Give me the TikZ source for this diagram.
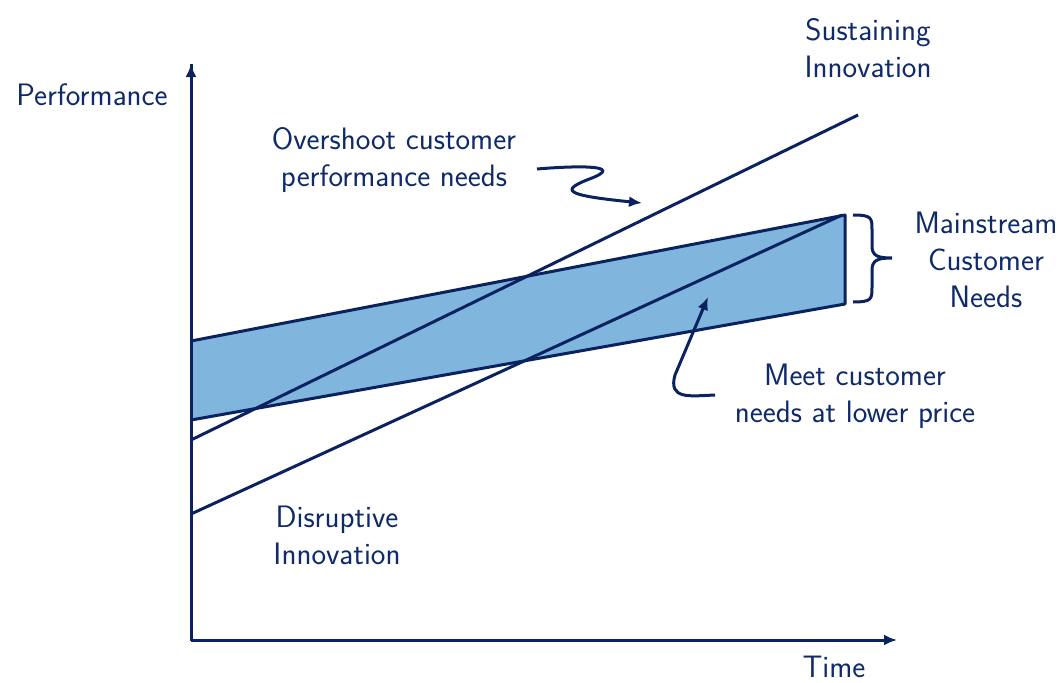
\documentclass[tikz,border=0pt]{standalone}
\usetikzlibrary{arrows.meta}
\definecolor{navy}{HTML}{0B2260}
\definecolor{bandfill}{HTML}{80B5DD}
\definecolor{txt}{HTML}{0E2A6A}
\begin{document}
\begin{tikzpicture}[x=1pt,y=-1pt,
  lbl/.style={font=\sffamily\fontsize{31}{37}\selectfont, text=txt, align=center, inner sep=0pt},
  ln/.style={draw=navy, line width=3pt},
  arr/.style={ln, -{Latex[length=13pt,width=11pt]}}]
\useasboundingbox (0,0) rectangle (1061,683);
\coordinate (O) at (191,640);
\coordinate (ytop) at (191,64);
\coordinate (xend) at (897,640);
% band
\coordinate (b1) at (191,341);
\coordinate (b2) at (845,215);
\coordinate (b3) at (845,304);
\coordinate (b4) at (191,420);
\fill[bandfill] (b1) -- (b2) -- (b3) -- (b4) -- cycle;
\draw[ln, line join=round] (b1) -- (b2) -- (b3) -- (b4);
% lines
\coordinate (s0) at (191,440);
\coordinate (s1) at (858,115);
\coordinate (d0) at (191,514);
\coordinate (d1) at (842,215);
\draw[ln] (s0) -- (s1);
\draw[ln] (d0) -- (d1);
% axes
\draw[arr, line join=round] (ytop) -- (O) -- (xend);
\draw[arr] (O) -- (ytop);
% brace
\coordinate (bt) at (853,215);
\coordinate (bb) at (853,302);
\coordinate (btip) at (892,258);
\draw[ln] (bt) .. controls (872,215) and (872,218) .. (872,230) -- (872,246)
  .. controls (872,256) and (878,258) .. (btip)
  (bb) .. controls (872,302) and (872,299) .. (872,287) -- (872,270)
  .. controls (872,260) and (878,258) .. (btip);
% labels
\node[lbl] (perf) at (92,95) {Performance};
\node[lbl] (time) at (834,667) {Time};
\node[lbl] (sust) at (868,48) {Sustaining\\Innovation};
\node[lbl] (over) at (394,160) {Overshoot customer\\performance needs};
\node[lbl] (main) at (986,260) {Mainstream\\Customer\\Needs};
\node[lbl] (meet) at (855,396) {Meet customer\\needs at lower price};
\node[lbl] (disr) at (337,535) {Disruptive\\Innovation};
% annotation arrows
\coordinate (a1) at (537,169);
\coordinate (a1e) at (642,203);
\draw[arr] (a1) .. controls (585,165) and (622,166) .. (592,178)
  .. controls (560,190) and (562,195) .. (a1e);
\coordinate (a2) at (715,395);
\coordinate (a2e) at (708,297);
\draw[arr] (a2) .. controls (690,396) and (668,400) .. (675,375) -- (a2e);
\end{tikzpicture}
\end{document}
